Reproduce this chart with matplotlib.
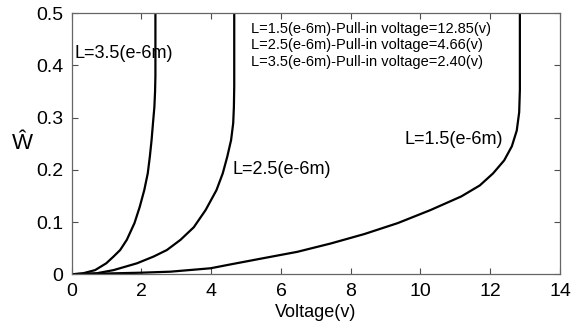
import matplotlib
matplotlib.use("Agg")
import matplotlib.pyplot as plt

plt.rcParams["font.family"] = ["Liberation Sans", "DejaVu Sans"]

# curves: voltage (v) vs normalised deflection
v_15 = [0, 1.97, 2.83, 3.98, 4.56, 5.51, 6.47, 7.43, 8.39, 9.35, 10.29,
        11.17, 11.70, 12.08, 12.40, 12.62, 12.76, 12.83, 12.85, 12.85]
w_15 = [0, 0.003, 0.005, 0.0115, 0.019, 0.031, 0.043, 0.059, 0.077, 0.098, 0.123,
        0.149, 0.170, 0.193, 0.218, 0.245, 0.275, 0.310, 0.353, 0.5]

v_25 = [0, 0.72, 1.20, 1.87, 2.35, 2.73, 3.12, 3.50, 3.84, 4.15, 4.33, 4.46,
        4.57, 4.63, 4.65, 4.66, 4.66]
w_25 = [0, 0.002, 0.008, 0.021, 0.034, 0.0465, 0.066, 0.090, 0.123, 0.161, 0.193, 0.225,
        0.257, 0.289, 0.32, 0.36, 0.5]

v_35 = [0, 0.33, 0.67, 0.99, 1.20, 1.39, 1.58, 1.80, 1.95, 2.08, 2.18, 2.24,
        2.29, 2.33, 2.37, 2.39, 2.40, 2.40]
w_35 = [0, 0.002, 0.008, 0.021, 0.034, 0.0465, 0.066, 0.098, 0.129, 0.161, 0.193, 0.225,
        0.257, 0.289, 0.32, 0.35, 0.38, 0.5]

curve_labels = ["L=1.5(e-6m)", "L=2.5(e-6m)", "L=3.5(e-6m)"]
pull_in = [12.85, 4.66, 2.40]

fig = plt.figure(figsize=(5.76, 3.27), dpi=100)
ax = fig.add_axes([0.1245, 0.1612, 0.8477, 0.799])

for v, w in [(v_15, w_15), (v_25, w_25), (v_35, w_35)]:
    ax.plot(v, w, color="black", lw=1.6, solid_joinstyle="round")

ax.set_xlim(0, 14)
ax.set_ylim(0, 0.5)
ax.set_xticks(range(0, 15, 2))
ax.set_yticks([0, 0.1, 0.2, 0.3, 0.4, 0.5])
ax.set_yticklabels(["0", "0.1", "0.2", "0.3", "0.4", "0.5"])
ax.tick_params(direction="in", top=True, right=True, length=4, width=0.8,
               labelsize=14, color="0.3", pad=6)
for s in ax.spines.values():
    s.set_color("0.4")
    s.set_linewidth(0.9)

ax.set_xlabel("Voltage(v)", fontsize=13, labelpad=3)
ax.set_ylabel("Ŵ", fontsize=16, rotation=0, labelpad=10, va="center")

# curve labels
ax.text(9.54, 0.258, curve_labels[0], fontsize=13, va="center")
ax.text(4.60, 0.201, curve_labels[1], fontsize=13, va="center")
ax.text(0.08, 0.423, curve_labels[2], fontsize=13, va="center")

# pull-in summary
for i, (lab, p) in enumerate(zip(curve_labels, pull_in)):
    ax.text(5.15, 0.469 - 0.031 * i, "%s-Pull-in voltage=%.2f(v)" % (lab, p),
            fontsize=10.5, va="center")

fig.savefig("out.png", dpi=100)
